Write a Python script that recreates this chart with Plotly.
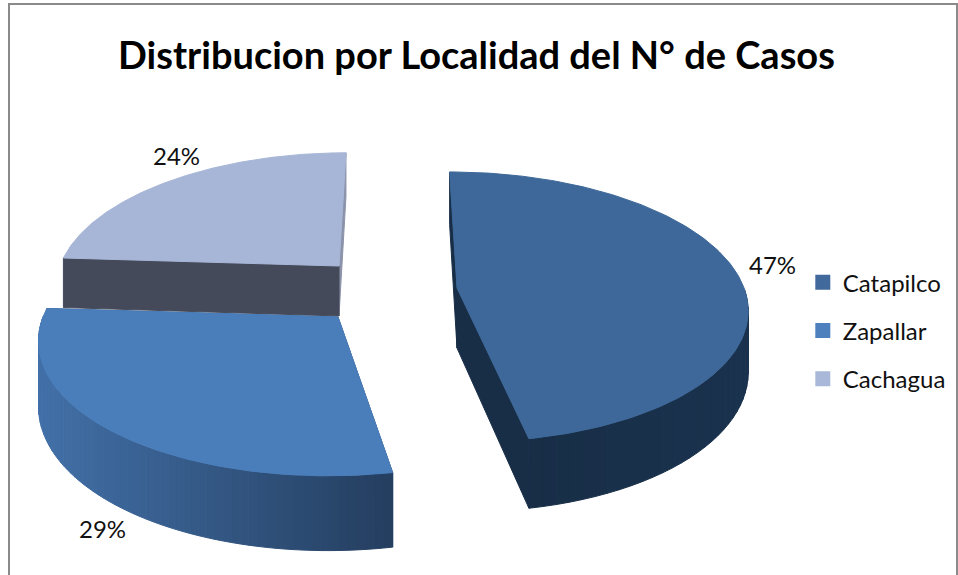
import numpy as np
import plotly.graph_objects as go

categories = ["Catapilco", "Zapallar", "Cachagua"]
values = [47, 29, 24]
title_text = "Distribucion por Localidad del N° de Casos"

top_colors = {"Catapilco": "#3d6899", "Zapallar": "#4a7ebb", "Cachagua": "#a7b6d7"}
legend_colors = {"Catapilco": "#42699c", "Zapallar": "#4d80bd", "Cachagua": "#a9b8d8"}
# cut faces: (face at the slice's start angle, face at its end angle)
cut_colors = {"Catapilco": ("#182e47", "#182e47"),
              "Zapallar": ("#2b4a70", "#2b4a70"),
              "Cachagua": ("#454a5a", "#8b93aa")}
# outer-wall shade: (colour on the left of the visible wall, colour on the right)
wall_colors = {"Catapilco": ((24, 46, 71), (26, 50, 78)),
               "Zapallar": ((66, 112, 168), (36, 62, 95)),
               "Cachagua": ((130, 140, 165), (130, 140, 165))}

# apex of each exploded slice in page pixels, and its size in the tilted view
apex = {"Catapilco": (457, 288), "Zapallar": (338, 317), "Cachagua": (339, 266)}
radius = {"Catapilco": 287, "Zapallar": 295, "Cachagua": 279}
depth = {"Catapilco": 60, "Zapallar": 64, "Cachagua": 50}
PERSP, PLANE_H, VANISH_X = 0.14, 945, 397


def project(name, r, t, drop=0.0):
    """Tilted-plane perspective of polar point (r in 0..1, t clockwise from top)."""
    ax, ay = apex[name]
    k = radius[name] / 287
    s = 1 / (1 + PERSP * k * r * np.cos(t))
    x = VANISH_X + (ax - VANISH_X + radius[name] * r * np.sin(t)) * s
    y = ay - PLANE_H + (PLANE_H + drop) * s
    return x, y


def poly(xs, ys, color):
    return go.Scatter(x=list(xs), y=list(ys), mode="lines", fill="toself",
                      fillcolor=color, line=dict(color=color, width=1),
                      hoverinfo="skip", showlegend=False)


total = sum(values)
edges = np.cumsum([0] + values) / total * 2 * np.pi
span = {n: (edges[i], edges[i + 1]) for i, n in enumerate(categories)}
order = ["Cachagua", "Zapallar", "Catapilco"]

traces = []
for name in order:
    a0, a1 = span[name]
    d = depth[name]
    # straight cut faces from the apex to both rims (far one first)
    for a, col in reversed(list(zip((a0, a1), cut_colors[name]))):
        x0, y0 = project(name, 0, a)
        x1, y1 = project(name, 1, a)
        x2, y2 = project(name, 1, a, d)
        x3, y3 = project(name, 0, a, d)
        traces.append(poly([x0, x1, x2, x3, x0], [y0, y1, y2, y3, y0], col))
    # curved outer wall (front-facing part only), shaded in narrow strips
    ts = np.linspace(a0, a1, 70)
    ts = ts[np.cos(ts) < 0.02]
    if len(ts) > 1:
        px = [project(name, 1, t)[0] for t in ts]
        left, right = min(px), max(px)
        c0, c1 = wall_colors[name]
        for t0, t1 in zip(ts[:-1], ts[1:]):
            xa, ya = project(name, 1, t0)
            xb, yb = project(name, 1, t1)
            xc, yc = project(name, 1, t1, d)
            xd, yd = project(name, 1, t0, d)
            f = ((xa + xb) / 2 - left) / (right - left)
            rgb = [round(c0[i] + (c1[i] - c0[i]) * f) for i in range(3)]
            col = f"rgb({rgb[0]},{rgb[1]},{rgb[2]})"
            traces.append(poly([xa, xb, xc, xd, xa], [ya, yb, yc, yd, ya], col))
    # top face
    ts = np.linspace(a0, a1, 160)
    rim = [project(name, 1, t) for t in ts]
    cx, cy = project(name, 0, a0)
    xs = [cx] + [p[0] for p in rim] + [cx]
    ys = [cy] + [p[1] for p in rim] + [cy]
    traces.append(poly(xs, ys, top_colors[name]))

# legend entries
for i, name in enumerate(categories):
    traces.append(go.Scatter(x=[None], y=[None], mode="markers", name=name,
                             legendgroup=name,
                             marker=dict(symbol="square", size=15, color=legend_colors[name])))

fig = go.Figure(traces)

label_pos = {"Catapilco": (772, 264), "Zapallar": (102, 528), "Cachagua": (176, 155)}
annotations = [dict(x=label_pos[n][0], y=label_pos[n][1], text=f"{round(v / total * 100)}%",
                    showarrow=False, xref="x", yref="y",
                    font=dict(family="Lato", size=24, color="#111111"))
               for n, v in zip(categories, values)]
annotations.append(dict(x=476, y=54, text=f"<b>{title_text}</b>", showarrow=False, xref="x", yref="y",
                        font=dict(family="Lato", size=38, color="#000000")))

fig.update_layout(
    width=958, height=575, autosize=False,
    margin=dict(l=0, r=0, t=0, b=0),
    paper_bgcolor="white", plot_bgcolor="white",
    xaxis=dict(range=[0, 958], visible=False, fixedrange=True),
    yaxis=dict(range=[575, 0], visible=False, fixedrange=True),
    annotations=annotations,
    showlegend=True,
    legend=dict(x=0.838, y=0.425, xanchor="left", yanchor="middle",
                font=dict(family="Lato", size=24, color="#111111"),
                tracegroupgap=14, itemwidth=30, bgcolor="rgba(0,0,0,0)"),
    shapes=[dict(type="rect", xref="x", yref="y", x0=9, y0=4, x1=957, y1=600,
                 line=dict(color="#8a8a8a", width=2), layer="below")],
)
fig.write_html("out.html", config={"displayModeBar": False},
               post_script="document.body.style.margin='0';document.body.style.overflow='hidden';")
